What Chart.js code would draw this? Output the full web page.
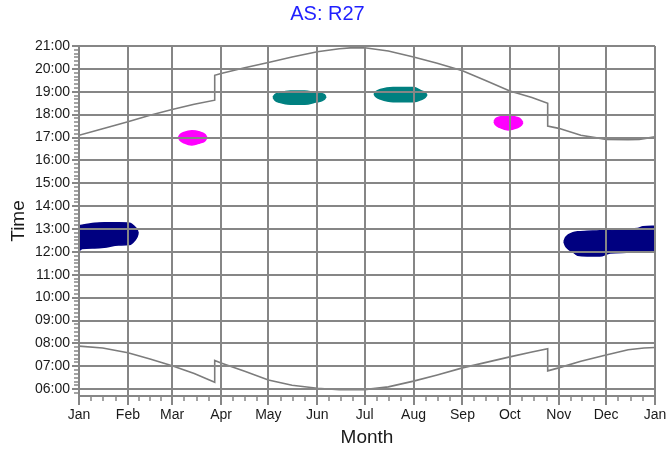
<!DOCTYPE html>
<html>
<head>
<meta charset="utf-8">
<script src="https://cdn.jsdelivr.net/npm/chart.js@4/dist/chart.umd.min.js"></script>
<style>
  body { margin: 0; background: #fff; }
</style>
</head>
<body>
<canvas id="sunChart" width="669" height="450"></canvas>
<script>
// axis labels
const monthLabels = ["Jan", "Feb", "Mar", "Apr", "May", "Jun", "Jul", "Aug", "Sep", "Oct", "Nov", "Dec", "Jan"];
const monthStarts = [0, 31, 59, 90, 120, 151, 181, 212, 243, 273, 304, 334, 365];
const hourTicks = [6, 7, 8, 9, 10, 11, 12, 13, 14, 15, 16, 17, 18, 19, 20, 21];

// sunset / sunrise (day of year, hours)
const sunsetDays = [0, 15, 31, 45, 59, 73, 86, 86, 90, 105, 120, 135, 151, 165, 172, 181, 196, 212, 227, 243, 258, 273, 287, 297, 297, 304, 318, 334, 348, 355, 365];
const sunsetTimes = [17.10, 17.38, 17.69, 17.97, 18.22, 18.45, 18.63, 19.72, 19.80, 20.05, 20.28, 20.52, 20.75, 20.88, 20.92, 20.92, 20.78, 20.52, 20.25, 19.92, 19.48, 19.03, 18.75, 18.50, 17.50, 17.40, 17.10, 16.92, 16.90, 16.92, 17.03];
const sunriseDays = [0, 15, 31, 45, 59, 73, 86, 86, 90, 105, 120, 135, 151, 165, 181, 196, 212, 227, 243, 258, 273, 287, 297, 297, 304, 318, 334, 348, 358, 365];
const sunriseTimes = [7.88, 7.80, 7.59, 7.32, 7.02, 6.68, 6.30, 7.25, 7.14, 6.78, 6.40, 6.17, 6.04, 5.97, 5.98, 6.10, 6.35, 6.62, 6.93, 7.17, 7.41, 7.62, 7.77, 6.80, 6.93, 7.22, 7.49, 7.72, 7.80, 7.82];

// glare patches: day, upper edge, lower edge
const janDays = [0.5, 2, 10, 16, 25, 32, 35.5, 36.8, 37.5];
const janTop = [13.15, 13.17, 13.25, 13.27, 13.27, 13.25, 13.08, 12.97, 12.82];
const janBottom = [12.08, 12.15, 12.17, 12.20, 12.30, 12.32, 12.52, 12.66, 12.82];

const decDays = [307.3, 308.3, 310, 313, 316, 322, 330, 336.5, 347, 354, 357.4, 365];
const decTop = [12.44, 12.62, 12.74, 12.84, 12.88, 12.90, 12.92, 12.95, 12.99, 13.02, 13.10, 13.12];
const decBottom = [12.44, 12.26, 12.13, 12.00, 11.85, 11.82, 11.82, 11.95, 11.98, 12.00, 12.02, 12.05];

const mayDays = [123, 124.2, 127, 134, 143, 150, 155.3, 156.5];
const mayTop = [18.76, 18.88, 18.95, 19.03, 19.03, 18.95, 18.88, 18.78];
const mayBottom = [18.76, 18.63, 18.54, 18.45, 18.45, 18.55, 18.66, 18.78];

const julDays = [187, 188.2, 191, 199, 212, 217, 219.3, 220.5];
const julTop = [18.90, 19.01, 19.10, 19.19, 19.19, 19.04, 18.96, 18.86];
const julBottom = [18.90, 18.78, 18.68, 18.56, 18.56, 18.66, 18.75, 18.86];

const marDays = [63, 64, 66.5, 71.5, 76.5, 80, 81];
const marTop = [17.00, 17.12, 17.22, 17.30, 17.24, 17.12, 17.00];
const marBottom = [17.00, 16.88, 16.77, 16.67, 16.76, 16.87, 17.00];

const octDays = [263, 264, 266.5, 272, 277.5, 280.2, 281.2];
const octTop = [17.69, 17.82, 17.90, 17.94, 17.88, 17.77, 17.65];
const octBottom = [17.69, 17.55, 17.44, 17.33, 17.42, 17.53, 17.65];

const NAVY = "#000080";
const TEAL = "#008080";
const MAGENTA = "#ff00ff";
const GRID = "#868686";

function pts(days, vals) {
  return days.map((d, i) => ({ x: d, y: vals[i] }));
}

function sunLine(days, vals) {
  return {
    data: pts(days, vals),
    borderColor: "#7c7c7c",
    borderWidth: 1.6,
    pointRadius: 0,
    fill: false,
    tension: 0,
  };
}

// two edges, the second filled up to the first
function patch(days, top, bottom, color) {
  const common = {
    borderColor: color,
    backgroundColor: color,
    borderWidth: 1.5,
    pointRadius: 0,
    cubicInterpolationMode: "monotone",
  };
  return [
    Object.assign({ data: pts(days, top), fill: false }, common),
    Object.assign({ data: pts(days, bottom), fill: "-1" }, common),
  ];
}

function hhmm(v) {
  return String(Math.round(v)).padStart(2, "0") + ":00";
}

// grid sits on top of the patches, plus short quarter-month and 10-minute ticks
const overlayGrid = {
  id: "overlayGrid",
  afterDatasetsDraw(chart) {
    const { ctx, scales, chartArea } = chart;
    const x = scales.x, y = scales.y;
    x.drawGrid(chartArea);
    y.drawGrid(chartArea);
    ctx.save();
    ctx.strokeStyle = GRID;
    ctx.lineWidth = 1.5;
    ctx.beginPath();
    for (let i = 0; i < monthStarts.length - 1; i++) {
      const step = (monthStarts[i + 1] - monthStarts[i]) / 4;
      for (let q = 1; q < 4; q++) {
        const px = Math.round(x.getPixelForValue(monthStarts[i] + q * step));
        ctx.moveTo(px, x.top);
        ctx.lineTo(px, x.top + 5);
      }
    }
    for (let m = Math.ceil(y.min * 6); m <= y.max * 6; m++) {
      if (m % 6 === 0) continue;
      const py = Math.round(y.getPixelForValue(m / 6));
      ctx.moveTo(y.right, py);
      ctx.lineTo(y.right - 5, py);
    }
    ctx.stroke();
    ctx.restore();
  },
};

Chart.defaults.font.family = "'Liberation Sans', Arial, sans-serif";
Chart.defaults.color = "#1a1a1a";

const ctx = document.getElementById("sunChart").getContext("2d");
new Chart(ctx, {
  type: "line",
  data: {
    datasets: [
      sunLine(sunsetDays, sunsetTimes),
      sunLine(sunriseDays, sunriseTimes),
      ...patch(janDays, janTop, janBottom, NAVY),
      ...patch(decDays, decTop, decBottom, NAVY),
      ...patch(mayDays, mayTop, mayBottom, TEAL),
      ...patch(julDays, julTop, julBottom, TEAL),
      ...patch(marDays, marTop, marBottom, MAGENTA),
      ...patch(octDays, octTop, octBottom, MAGENTA),
    ],
  },
  options: {
    responsive: false,
    animation: false,
    layout: { padding: { left: 0, right: 14, top: 0, bottom: 1 } },
    plugins: {
      legend: { display: false },
      tooltip: { enabled: false },
      title: {
        display: true,
        text: "AS: R27",
        color: "#1f1fff",
        font: { size: 20, weight: "normal" },
        padding: { top: 2, bottom: 20 },
      },
    },
    scales: {
      x: {
        type: "linear",
        min: 0,
        max: 365,
        afterBuildTicks: (scale) => {
          scale.ticks = monthStarts.map((v) => ({ value: v }));
        },
        afterFit: (scale) => {
          scale.height = 53;
        },
        ticks: {
          autoSkip: false,
          maxRotation: 0,
          padding: 2,
          font: { size: 14 },
          callback: (v) => monthLabels[monthStarts.indexOf(v)],
        },
        grid: { color: GRID, lineWidth: 2, tickLength: 9 },
        border: { color: GRID, width: 2 },
        title: {
          display: true,
          text: "Month",
          font: { size: 19 },
          padding: 0,
        },
      },
      y: {
        type: "linear",
        min: 5.7,
        max: 21,
        afterBuildTicks: (scale) => {
          scale.ticks = hourTicks.map((v) => ({ value: v }));
        },
        afterFit: (scale) => {
          scale.width = 79;
        },
        ticks: {
          autoSkip: false,
          padding: 2,
          font: { size: 14 },
          callback: (v) => hhmm(v),
        },
        grid: { color: GRID, lineWidth: 2, tickLength: 7 },
        border: { color: GRID, width: 2 },
        title: {
          display: true,
          text: "Time",
          font: { size: 19 },
          padding: { top: 7, bottom: 0 },
        },
      },
    },
  },
  plugins: [overlayGrid],
});
</script>
</body>
</html>
